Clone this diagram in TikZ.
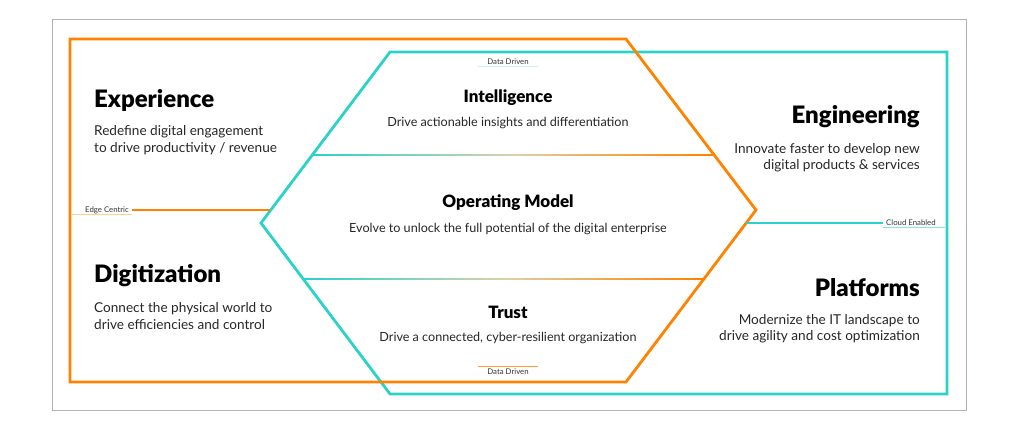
\documentclass[tikz,border=0pt]{standalone}
\usepackage{fontspec}
\setmainfont{Lato}
\newfontfamily\heavyfont{Lato Black}
\usepackage{xcolor}
\usepackage{tikz}
\usetikzlibrary{calc}
\usetikzlibrary{positioning}
\definecolor{hpeorange}{HTML}{FF8300}
\definecolor{hpeteal}{HTML}{2AD2C9}
\definecolor{hpemid}{HTML}{DCD2AC}
\tikzstyle{pillar}=[black, inner sep=0pt, font=\heavyfont\fontsize{24}{28}\selectfont]
\tikzstyle{pillartext}=[black!85, inner sep=0pt, font=\fontsize{13.6}{16.5}\selectfont]
\tikzstyle{layer}=[black, inner sep=0pt, font=\heavyfont\fontsize{17}{20}\selectfont]
\tikzstyle{layertext}=[black!85, inner sep=0pt, font=\fontsize{12.6}{14}\selectfont]
\tikzstyle{tag}=[black!80, inner xsep=3pt, inner ysep=1pt, font=\fontsize{7.8}{9}\selectfont]
\tikzstyle{orangeline}=[hpeorange, line width=2.8pt, line join=miter]
\tikzstyle{tealline}=[hpeteal, line width=2.8pt, line join=miter]

\begin{document}
\begin{tikzpicture}[x=1pt, y=-1pt]
\useasboundingbox (0,0) rectangle (1023,433);
\draw[gray!60, line width=1pt] (52,20) rectangle (966,410);

% teal frame, hexagon side on the left
\coordinate (t1) at (947,52);
\coordinate (t2) at (390,52);
\coordinate (t3) at (261,223);
\coordinate (t4) at (390,394);
\coordinate (t5) at (947,394);
% orange frame, hexagon side on the right
\coordinate (o1) at (70,39);
\coordinate (o2) at (626,39);
\coordinate (o3) at (756,210);
\coordinate (o4) at (626,382);
\coordinate (o5) at (70,382);

\draw[tealline] (t1) -- (t2) -- (t3) -- (t4) -- (t5) -- cycle;
\draw[orangeline] (o1) -- (o2) -- (o3) -- (o4) -- (o5) -- cycle;

% layer separators, teal fading into orange
\foreach \ya/\xl/\xr in {155/312/714, 279/303/704} {
  \foreach \i in {0,...,39} {
    \pgfmathsetmacro{\xa}{\xl+(\xr-\xl)*\i/40}
    \pgfmathsetmacro{\xb}{\xl+(\xr-\xl)*(\i+1)/40+0.6}
    \ifnum\i<20
      \pgfmathtruncatemacro{\pc}{\i*5}
      \colorlet{fadecol}{hpemid!\pc!hpeteal}
    \else
      \pgfmathtruncatemacro{\pc}{(\i-20)*5+5}
      \colorlet{fadecol}{hpeorange!\pc!hpemid}
    \fi
    \draw[fadecol, line width=2.5pt] (\xa,\ya) -- (\xb,\ya);
  }
}

% side tags
\node [tag, anchor=east] (edge) at (132,210) {Edge Centric};
\coordinate (edgeend) at (270,210);
\draw[orangeline, line cap=butt] (edge.east) -- (edgeend);
\draw[hpeorange!40, line width=0.7pt] (edge.south east) -- ++(-60,0);

\node [tag, anchor=west] (cloud) at (883,223) {Cloud Enabled};
\coordinate (cloudend) at (746,223);
\draw[tealline, line cap=butt] (cloud.west) -- (cloudend);
\draw[hpeteal!55, line width=0.7pt] (cloud.south west) -- ++(62,0);

\node [tag] (ddtop) at (508,62) {Data Driven};
\draw[hpeteal!25, line width=0.7pt] ($(ddtop.south)+(-30,0)$) -- ++(60,0);
\node [tag] (ddbot) at (508,372) {Data Driven};
\draw[hpeorange!80, line width=1.2pt] ($(ddbot.north)+(-30,-1.5)$) -- ++(60,0);

% pillars
\node [pillar, anchor=west] (exp) at (94,100) {Experience};
\node [pillartext, anchor=west, align=left] (expt) at (94,140) {Redefine digital engagement\\to drive productivity / revenue};
\node [pillar, anchor=west] (dig) at (94,276) {Digitization};
\node [pillartext, anchor=west, align=left] (digt) at (94,316) {Connect the physical world to\\drive efficiencies and control};
\node [pillar, anchor=east] (eng) at (920,117) {Engineering};
\node [pillartext, anchor=east, align=right] (engt) at (920,157.5) {Innovate faster to develop new\\digital products \& services};
\node [pillar, anchor=east] (plat) at (920,288) {Platforms};
\node [pillartext, anchor=east, align=right] (platt) at (920,328.5) {Modernize the IT landscape to\\drive agility and cost optimization};

% layers
\node [layer] (intel) at (508,98) {Intelligence};
\node [layertext] (intelt) at (508,123) {Drive actionable insights and differentiation};
\node [layer] (opm) at (508,203) {Operating Model};
\node [layertext] (opmt) at (508,229) {Evolve to unlock the full potential of the digital enterprise};
\node [layer] (trust) at (508,312) {Trust};
\node [layertext] (trustt) at (508,338) {Drive a connected, cyber-resilient organization};
\end{tikzpicture}
\end{document}
